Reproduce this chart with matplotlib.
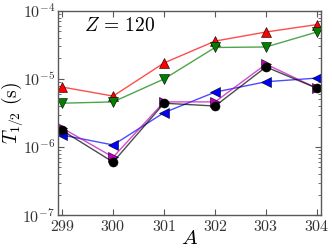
import matplotlib
matplotlib.use('Agg')
import matplotlib.pyplot as plt
import numpy as np

plt.rcParams['mathtext.fontset'] = 'cm'
plt.rcParams['font.family'] = 'serif'
plt.rcParams['font.serif'] = ['DejaVu Serif']

A = [299, 300, 301, 302, 303, 304]

t_red = [7.6e-6, 5.6e-6, 1.72e-5, 3.6e-5, 4.9e-5, 6.3e-5]
t_green = [4.4e-6, 4.6e-6, 1.0e-5, 2.9e-5, 2.95e-5, 4.9e-5]
t_blue = [1.5e-6, 1.07e-6, 3.2e-6, 6.4e-6, 9.1e-6, 1.03e-5]
t_magenta = [1.9e-6, 7.1e-7, 4.6e-6, 4.6e-6, 1.65e-5, 7.3e-6]
t_black = [1.75e-6, 6.0e-7, 4.4e-6, 4.0e-6, 1.5e-5, 7.3e-6]

xticks = [299, 300, 301, 302, 303, 304]
yticks = [1e-7, 1e-6, 1e-5, 1e-4]

fig = plt.figure(figsize=(3.32, 2.48), dpi=100)
ax = fig.add_axes([0.175, 0.133, 0.792, 0.823])

series = [
    (t_red, 'r', '^'),
    (t_green, 'g', 'v'),
    (t_blue, 'b', '<'),
    (t_magenta, 'm', '>'),
    (t_black, 'k', 'o'),
]
for vals, c, m in series:
    ax.plot(A, vals, color=c, lw=1.0, alpha=0.7)
    ax.plot(A, vals, ls='none', marker=m, ms=6.5, mfc=c, mec='k', mew=0.4)

ax.set_yscale('log')
ax.set_xlim(298.92, 304.08)
ax.set_ylim(1e-7, 1e-4)
ax.set_xticks(xticks)
ax.set_xticklabels(['$%d$' % x for x in xticks])
ax.set_yticks(yticks)
ax.set_yticklabels(['$10^{-7}$', '$10^{-6}$', '$10^{-5}$', '$10^{-4}$'])
ax.tick_params(which='both', direction='in', top=True, right=True, labelsize=11.5, colors='0.35',
               labelcolor='0.2')
ax.tick_params(which='major', length=4, pad=2)
ax.tick_params(which='minor', length=2)
for s in ax.spines.values():
    s.set_color('0.35')
    s.set_linewidth(1.0)

ax.set_xlabel('$A$', fontsize=15)
ax.xaxis.set_label_coords(0.5, -0.07)
ax.set_ylabel('$T_{1/2}$ $\\mathrm{(s)}$', fontsize=14)
ax.yaxis.set_label_coords(-0.125, 0.5)
ax.text(0.10, 0.925, '$Z\\,=\\,120$', transform=ax.transAxes, fontsize=14, va='center', ha='left')

fig.savefig('out.png', dpi=100)
